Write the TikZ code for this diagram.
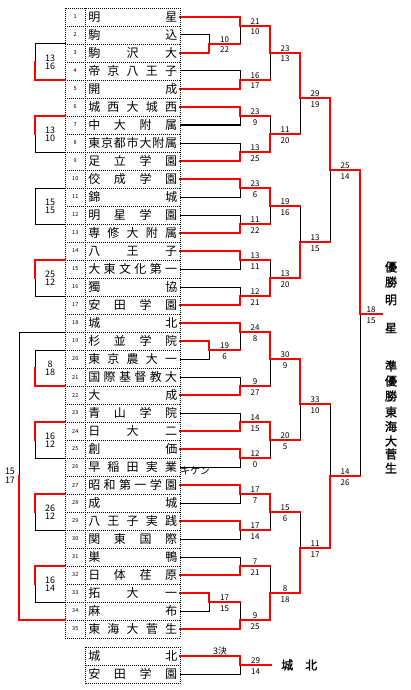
\documentclass[tikz,border=0pt]{standalone}
\usepackage{fontspec}
\setmainfont{Noto Sans CJK JP}
\newfontfamily\heavyjp{Noto Sans CJK JP}[FakeBold=1.5]
\usetikzlibrary{calc}

% spread the letters of a school name over the whole cell
\newcommand\spreadname[1]{\edef\spreadtmp{#1}\makebox[89pt][s]{\expandafter\spreadfirst\spreadtmp\relax}}
\def\spreadfirst#1{#1\spreadnext}
\def\spreadnext#1{\ifx#1\relax\else\hfill#1\expandafter\spreadnext\fi}

% match / top entry / bottom entry / winner / next round / scores
\def\matchlist{pA/t2.east/t3.east/t3.east/r1/10/22,
pB/t19.east/t20.east/t19.east/r9/19/6,
pC/t33.east/t34.east/t33.east/r16/17/15,
r1/t1.east/pA/t1.east/s1/21/10,
r2/t4.east/t5.east/t5.east/s1/16/17,
r3/t6.east/t7.east/t6.east/s2/23/9,
r4/t8.east/t9.east/t9.east/s2/13/25,
r5/t10.east/t11.east/t10.east/s3/23/6,
r6/t12.east/t13.east/t13.east/s3/11/22,
r7/t14.east/t15.east/t14.east/s4/13/11,
r8/t16.east/t17.east/t17.east/s4/12/21,
r9/t18.east/pB/t18.east/s5/24/8,
r10/t21.east/t22.east/t22.east/s5/9/27,
r11/t23.east/t24.east/t24.east/s6/14/15,
r12/t25.east/t26.east/t25.east/s6/12/0,
r13/t27.east/t28.east/t27.east/s7/17/7,
r14/t29.east/t30.east/t29.east/s7/17/14,
r15/t31.east/t32.east/t32.east/s8/7/21,
r16/pC/t35.east/t35.east/s8/9/25,
s1/r1/r2/r1/q1/23/13,
s2/r3/r4/r4/q1/11/20,
s3/r5/r6/r5/q2/19/16,
s4/r7/r8/r8/q2/13/20,
s5/r9/r10/r9/q3/30/9,
s6/r11/r12/r11/q3/20/5,
s7/r13/r14/r13/q4/15/6,
s8/r15/r16/r16/q4/8/18,
q1/s1/s2/s1/h1/29/19,
q2/s3/s4/s4/h1/13/15,
q3/s5/s6/s5/h2/33/10,
q4/s7/s8/s8/h2/11/17,
h1/q1/q2/q1/f/25/14,
h2/q3/q4/q4/f/14/26,
f/h1/h2/h1/champ/18/15,
m3/b1.east/b2.east/b1.east/m3end/29/14}

\begin{document}
\begin{tikzpicture}[x=1pt,y=-1pt]
\tikzstyle{win}=[red, line width=2pt, line cap=rect]
\tikzstyle{lose}=[black, line width=1pt, line cap=rect]
\tikzstyle{grid}=[black, line width=0.7pt, dash pattern=on 0.7pt off 1.3pt]
\tikzstyle{numcell}=[minimum width=20.5pt, minimum height=18pt, inner sep=0pt, outer sep=0pt, font=\fontsize{5.5}{5.5}\selectfont]
\tikzstyle{namecell}=[minimum width=94.5pt, minimum height=18pt, inner sep=0pt, outer sep=0pt, font=\fontsize{12}{12}\selectfont]
\tikzstyle{score}=[anchor=base, inner sep=0pt, font=\fontsize{8}{8}\selectfont]
\tikzstyle{sidescore}=[inner sep=0pt, font=\fontsize{9}{9}\selectfont]
\tikzstyle{result}=[inner sep=0pt, font=\heavyjp\fontsize{12}{12}\selectfont]
\useasboundingbox (0,0) rectangle (410,690);

\coordinate (pA) at (209,44);
\coordinate (pB) at (209,350);
\coordinate (pC) at (209,602);
\foreach \k/\y in {1/26,2/80,3/116,4/152,5/188,6/224,7/260,8/296,9/332,10/386,11/422,12/458,13/494,14/530,15/566,16/620}
    \coordinate (r\k) at (240,\y);
\foreach \k/\y in {1/53,2/134,3/206,4/278,5/359,6/440,7/512,8/593}
    \coordinate (s\k) at (270,\y);
\foreach \k/\y in {1/98,2/242,3/404,4/548}
    \coordinate (q\k) at (300,\y);
\coordinate (h1) at (330,170);
\coordinate (h2) at (330,476);
\coordinate (f) at (360,314);
\coordinate (champ) at (382,314);
\coordinate (m3) at (240,665);
\coordinate (m3end) at (271,665);

% entry list
\foreach \i/\t/\m/\s in {1/明星/r1/win, 2/駒込/pA/lose, 3/駒沢大/pA/win, 4/帝京八王子/r2/lose,
    5/開成/r2/win, 6/城西大城西/r3/win, 7/中大附属/r3/lose, 8/東京都市大附属/r4/lose,
    9/足立学園/r4/win, 10/佼成学園/r5/win, 11/錦城/r5/lose, 12/明星学園/r6/lose,
    13/専修大附属/r6/win, 14/八王子/r7/win, 15/大東文化第一/r7/lose, 16/獨協/r8/lose,
    17/安田学園/r8/win, 18/城北/r9/win, 19/杉並学院/pB/win, 20/東京農大一/pB/lose,
    21/国際基督教大/r10/lose, 22/大成/r10/win, 23/青山学院/r11/lose, 24/日大二/r11/win,
    25/創価/r12/win, 26/早稲田実業/r12/lose, 27/昭和第一学園/r13/win, 28/成城/r13/lose,
    29/八王子実践/r14/win, 30/関東国際/r14/lose, 31/巣鴨/r15/lose, 32/日体荏原/r15/win,
    33/拓大一/pC/win, 34/麻布/pC/lose, 35/東海大菅生/r16/win} {
    \node[numcell] (n\i) at (75.25,{18*\i-1}) {\i};
    \node[namecell] (t\i) at (132.75,{18*\i-1}) {\spreadname{\t}};
    \draw[\s] (t\i.east) -- (t\i.east -| \m);
}
\draw[grid] (n1.north west) rectangle (t35.south east);
\draw[grid] (n1.north east) -- (n35.south east);
\foreach \i in {1,...,34}
    \draw[grid] (n\i.south west) -- (t\i.south east);
\node[anchor=west, inner sep=0pt, font=\fontsize{10}{10}\selectfont] (t26-note) at (180,470.5) {キケン};

% third place game
\node[namecell] (b1) at (132.75,656) {\spreadname{城北}};
\node[namecell] (b2) at (132.75,674) {\spreadname{安田学園}};
\draw[grid] (b1.north west) rectangle (b2.south east);
\draw[grid] (b1.south west) -- (b1.south east);
\draw[win] (b1.east) -- (b1.east -| m3);
\draw[lose] (b2.east) -- (b2.east -| m3);
\node[inner sep=0pt, font=\fontsize{9}{9}\selectfont] (m3-lbl) at (220,651.5) {3決};

% bracket
\foreach \m/\u/\v/\w/\n/\p/\q in \matchlist
    \draw[lose] (\u -| \m) -- (\v -| \m);
\foreach \m/\u/\v/\w/\n/\p/\q in \matchlist {
    \draw[win] (\w -| \m) -- (\m) -- (\m -| \n);
    \node[score] (\m-u) at ($(\m)!.5!(\m -| \n) + (0,-1.2)$) {\p};
    \node[score] (\m-l) at ($(\m)!.5!(\m -| \n) + (0,9)$) {\q};
}

% left side brackets
\foreach \a/\b/\s/\p/\q [count=\k] in {3/4/b/13/16, 7/8/a/13/10, 11/12/n/15/15, 15/16/a/25/12,
    20/21/b/8/18, 24/25/a/16/12, 28/29/a/26/12, 32/33/a/16/14} {
    \draw[lose] (n\a.north west) -- ++(-30,0) |- (n\b.south west);
    \if\s a\draw[win] (n\a.north west) -- ++(-30,0) -- ++(0,18);\fi
    \if\s b\draw[win] (n\b.south west) -- ++(-30,0) -- ++(0,-18);\fi
    \node[sidescore] (L\k-u) at ($(n\a.north west)!.5!(n\b.south west) + (-15,-4)$) {\p};
    \node[sidescore] (L\k-l) at ($(n\a.north west)!.5!(n\b.south west) + (-15,4.5)$) {\q};
}
\draw[lose] (n18.south west) -- ++(-46,0) |- (n34.south west);
\draw[win] (n34.south west) -- ++(-46,0) -- ++(0,-144);
\node[sidescore] (L9-u) at (10,471.3) {15};
\node[sidescore] (L9-l) at (10,480.3) {17};

% results
\foreach \c/\y [count=\k] in {優/267,勝/282,明/300,星/328,準/366,優/381,勝/396,東/412,海/426.5,大/441,菅/454,生/468}
    \node[result] (v\k) at (391,\y) {\c};
\node[result, anchor=west] (third) at (281,665) {城　北};
\end{tikzpicture}
\end{document}
